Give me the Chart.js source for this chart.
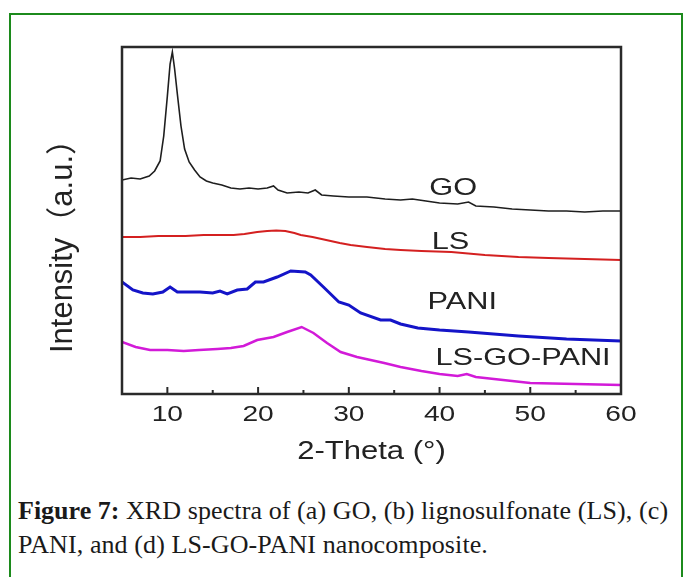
<!DOCTYPE html>
<html>
<head>
<meta charset="utf-8">
<script src="https://cdn.jsdelivr.net/npm/chart.js@4/dist/chart.umd.min.js"></script>
<style>
  html, body { margin: 0; padding: 0; background: #fff; }
  body { width: 688px; height: 577px; position: relative; overflow: hidden; }
  #marco { position: absolute; left: 9px; top: 13px; width: 670px; height: 600px; border: 2.5px solid #1c8a1c; }
  #divGrafico { position: absolute; left: 0; top: 0; width: 688px; height: 480px; }
  #legenda { position: absolute; left: 18px; top: 494px; width: 668px; font-family: "Liberation Serif", serif; font-size: 26px; line-height: 34px; color: #1a1a1a; white-space: nowrap; }
  #legenda span { letter-spacing: 0.1px; }
</style>
</head>
<body>
<div id="marco"></div>
<div id="divGrafico"><canvas id="grafico"></canvas></div>
<div id="legenda"><b>Figure 7:</b><span> XRD spectra of (a) GO, (b) lignosulfonate (LS), (c)<br>PANI, and (d) LS-GO-PANI nanocomposite.</span></div>
<script>
// 2-theta (graus) e intensidade (u.a., com deslocamento vertical) de cada amostra
var goTheta = [5, 6, 7, 8, 8.6, 9.2, 9.6, 10.0, 10.3, 10.55, 10.8, 11.1, 11.5, 11.9, 12.4, 13, 13.6, 14.3, 15, 16, 17, 18, 19, 20, 21, 21.7, 22.2, 23.2, 24.5, 25.5, 26.3, 27, 28.3, 30, 32, 34, 35.7, 37, 38.5, 40, 42, 43.2, 44, 46, 48, 50, 52, 54, 56, 58, 60];
var goInt = [214, 216, 215, 218, 223, 233, 258, 298, 330, 342, 325, 300, 268, 245, 232, 224, 217, 213, 211, 209, 206, 205, 206, 205, 206, 208, 204, 201, 202, 201, 204, 199, 198, 197, 197, 195, 194, 195, 193, 191, 190, 192, 188, 187, 185, 184, 183, 183, 182, 183, 183];

var lsTheta = [5, 7, 9, 10, 12, 14, 16, 17.3, 18.5, 19.9, 21, 22, 23, 24, 24.7, 26, 27.5, 29, 30.2, 32, 34, 35.7, 38, 41.3, 45, 48.7, 52, 56, 60];
var lsInt = [157, 157, 158, 158, 158, 159, 159, 159, 160, 162, 163, 163.5, 163, 161, 159, 157, 154, 151, 149, 147, 145, 144, 143, 142, 139, 137, 136, 135, 134];

var paniTheta = [5, 6.2, 7.3, 8.4, 9.5, 10.3, 11.1, 12.3, 13.6, 15, 15.8, 16.6, 17.7, 18.8, 19.7, 20.6, 22.1, 23.6, 25.2, 25.8, 27.2, 28.9, 30, 31.3, 33.5, 34.6, 35.7, 37.6, 40, 43.2, 48.7, 54, 60];
var paniInt = [112, 104, 101, 100, 102, 107, 102, 102, 102, 101, 103, 100, 104, 105, 112, 112, 117, 123, 122, 119, 107, 92, 89, 81, 74, 74, 70, 66, 64, 62, 58, 55, 53];

var compTheta = [5, 6.5, 8.1, 10, 11.8, 13.5, 15.5, 17, 18.4, 19.9, 21.7, 23.2, 24.8, 26.1, 27.6, 29.1, 30.9, 33.9, 35.7, 38, 40, 42, 43, 44, 47, 50, 55, 60];
var compInt = [52, 47, 44, 44, 43, 44, 45, 46, 48, 54, 57, 62, 67, 61, 51, 42, 37, 31, 27, 23, 20, 18, 20, 17, 14, 11, 10, 9];

var nomes = ["GO", "LS", "PANI", "LS-GO-PANI"];
var cores = ["#1e1e1e", "#d42020", "#1414c8", "#d21ad8"];
var espessuras = [1.6, 2, 3, 2.5];

function pontos(xs, ys) {
	var lista = [];
	for (var i = 0; i < xs.length; i++) {
		lista.push({x: xs[i], y: ys[i]});
	}
	return lista;
}

var series = [pontos(goTheta, goInt), pontos(lsTheta, lsInt), pontos(paniTheta, paniInt), pontos(compTheta, compInt)];

// onde cada nome aparece, em coordenadas do gráfico
var rotulos = [
	{texto: "GO", x: 41.5, y: 206},
	{texto: "LS", x: 41.2, y: 152},
	{texto: "PANI", x: 42.5, y: 92},
	{texto: "LS-GO-PANI", x: 49.2, y: 36}
];

var datasets = [];
for (var i = 0; i < series.length; i++) {
	datasets.push({
		label: nomes[i],
		data: series[i],
		showLine: true,
		borderColor: cores[i],
		borderWidth: espessuras[i],
		pointRadius: 0,
		tension: 0,
		fill: false
	});
}

var FONTE = "'Liberation Sans', Arial, 'Noto Sans CJK SC', sans-serif";

// texto um pouco esticado na horizontal, como na figura original
function textoLargo(ctx, texto, x, y, tamanho, largura) {
	ctx.save();
	ctx.translate(x, y);
	ctx.scale(largura, 1);
	ctx.font = tamanho + "px " + FONTE;
	ctx.fillText(texto, 0, 0);
	ctx.restore();
}

// moldura, marcas do eixo x voltadas para dentro, rótulos e títulos
var moldura = {
	id: 'moldura',
	afterDatasetsDraw: function(chart) {
		var ctx = chart.ctx;
		var area = chart.chartArea;
		var escalaX = chart.scales.x;
		var escalaY = chart.scales.y;
		ctx.save();
		ctx.strokeStyle = "#2a2a2a";
		ctx.lineWidth = 2.5;
		ctx.strokeRect(area.left, area.top, area.right - area.left, area.bottom - area.top);
		ctx.lineWidth = 2;
		for (var v = 10; v < 60; v += 5) {
			var px = escalaX.getPixelForValue(v);
			var tam = v % 10 === 0 ? 7 : 4;
			ctx.beginPath();
			ctx.moveTo(px, area.bottom);
			ctx.lineTo(px, area.bottom - tam);
			ctx.stroke();
		}

		ctx.fillStyle = "#222";
		ctx.textAlign = "center";
		ctx.textBaseline = "middle";

		escalaX.ticks.forEach(function(t) {
			textoLargo(ctx, String(t.value), escalaX.getPixelForValue(t.value), area.bottom + 21, 22, 1.28);
		});
		textoLargo(ctx, "2-Theta (°)", (area.left + area.right) / 2, area.bottom + 58, 25, 1.24);

		for (var i = 0; i < rotulos.length; i++) {
			var r = rotulos[i];
			textoLargo(ctx, r.texto, escalaX.getPixelForValue(r.x), escalaY.getPixelForValue(r.y), 24, 1.28);
		}

		ctx.save();
		ctx.translate(area.left - 59, (area.top + area.bottom) / 2 + 18);
		ctx.rotate(-Math.PI / 2);
		ctx.font = "31px " + FONTE;
		ctx.fillText("Intensity（a.u.）", 0, 0);
		ctx.restore();
		ctx.restore();
	}
};

var grafico = new Chart(document.getElementById("grafico"), {
	type: 'scatter',
	data: {datasets: datasets},
	plugins: [moldura],
	options: {
		responsive: true,
		maintainAspectRatio: false,
		animation: false,
		layout: {padding: {left: 0, right: 67, top: 47, bottom: 0}},
		plugins: {legend: {display: false}, tooltip: {enabled: false}},
		scales: {
			x: {
				type: 'linear',
				min: 5,
				max: 60,
				grid: {display: false, drawTicks: false},
				border: {display: false},
				afterBuildTicks: function(scale) {
					scale.ticks = scale.ticks.filter(function(t) { return t.value % 10 === 0; });
				},
				afterFit: function(scale) { scale.height = 86; },
				ticks: {stepSize: 10, display: false}
			},
			y: {
				type: 'linear',
				min: 0,
				max: 347,
				grid: {display: false, drawTicks: false},
				border: {display: false},
				ticks: {display: false},
				afterFit: function(scale) { scale.width = 122; }
			}
		}
	}
});
</script>
</body>
</html>
